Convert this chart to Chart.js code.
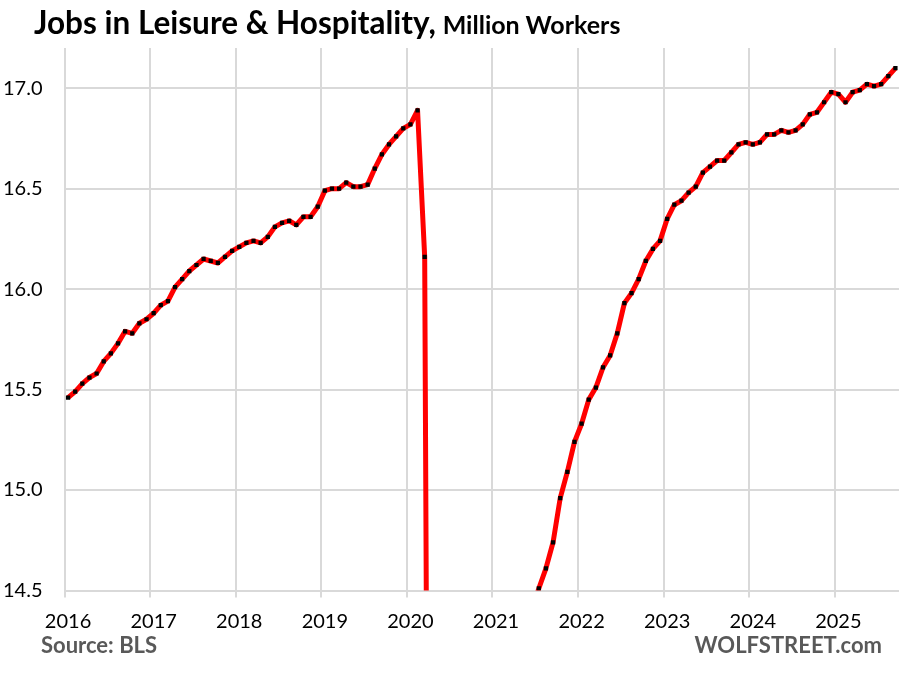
<!DOCTYPE html>
<html>
<head>
<meta charset="utf-8">
<script src="https://cdn.jsdelivr.net/npm/chart.js@4.4.1/dist/chart.umd.min.js"></script>
<style>
  html, body { margin: 0; padding: 0; background: #fff; }
  #wrap { position: relative; width: 915px; height: 673px; }
  #title { position: absolute; left: 34px; top: 7px; font-family: Lato, 'Open Sans', sans-serif; font-weight: 700; color: #000; white-space: nowrap; line-height: 1; }
  #title .big { font-size: 31.5px; }
  #title .small { font-size: 25px; margin-left: 3px; }
  .foot { position: absolute; top: 634px; font-family: Lato, 'Open Sans', sans-serif; font-weight: 700; font-size: 22px; color: #595959; line-height: 1; white-space: nowrap; }
  #src { left: 41px; }
  #brand { right: 33px; }
</style>
</head>
<body>
<div id="wrap">
  <canvas id="chart" width="915" height="673"></canvas>
  <div id="title"><span class="big">Jobs in Leisure &amp; Hospitality,</span> <span class="small">Million Workers</span></div>
  <div class="foot" id="src">Source: BLS</div>
  <div class="foot" id="brand">WOLFSTREET.com</div>
</div>
<script>
// monthly values, million workers (Apr 2020 - Jun 2021 fall below the axis)
var years = ['2016', '2017', '2018', '2019', '2020', '2021', '2022', '2023', '2024', '2025'];
var v2016 = [15.46, 15.49, 15.53, 15.56, 15.58, 15.64, 15.68, 15.73, 15.79, 15.78, 15.83, 15.85];
var v2017 = [15.88, 15.92, 15.94, 16.01, 16.05, 16.09, 16.12, 16.15, 16.14, 16.13, 16.16, 16.19];
var v2018 = [16.21, 16.23, 16.24, 16.23, 16.26, 16.31, 16.33, 16.34, 16.32, 16.36, 16.36, 16.41];
var v2019 = [16.49, 16.50, 16.50, 16.53, 16.51, 16.51, 16.52, 16.60, 16.67, 16.72, 16.76, 16.80];
var v2020 = [16.82, 16.89, 16.16, 8.70, 10.10, 11.70, 12.30, 12.60, 12.95, 13.25, 13.25, 12.85];
var v2021 = [12.95, 13.35, 13.65, 13.95, 14.25, 14.40, 14.51, 14.61, 14.74, 14.96, 15.09, 15.24];
var v2022 = [15.33, 15.45, 15.51, 15.61, 15.67, 15.78, 15.93, 15.98, 16.05, 16.14, 16.20, 16.24];
var v2023 = [16.35, 16.42, 16.44, 16.48, 16.51, 16.58, 16.61, 16.64, 16.64, 16.68, 16.72, 16.73];
var v2024 = [16.72, 16.73, 16.77, 16.77, 16.79, 16.78, 16.79, 16.82, 16.87, 16.88, 16.93, 16.98];
var v2025 = [16.97, 16.93, 16.98, 16.99, 17.02, 17.01, 17.02, 17.06, 17.10];
var yTicks = [14.5, 15.0, 15.5, 16.0, 16.5, 17.0];

var perYear = [v2016, v2017, v2018, v2019, v2020, v2021, v2022, v2023, v2024, v2025];
var labels = [];
var values = [];
var yearLabelAt = {};
perYear.forEach(function(arr, yi) {
  arr.forEach(function(v, m) {
    if (m === 0) yearLabelAt[labels.length] = years[yi];
    labels.push(years[yi] + '-' + (m + 1));
    values.push(v);
  });
});

var GRID = '#d9d9d9';
function yearLine(ctx) {
  return (ctx.index !== undefined && yearLabelAt[ctx.index]) ? GRID : 'rgba(0,0,0,0)';
}

new Chart(document.getElementById('chart'), {
  type: 'line',
  data: {
    labels: labels,
    datasets: [{
      data: values,
      borderColor: '#ff0000',
      borderWidth: 5,
      borderJoinStyle: 'round',
      tension: 0,
      pointStyle: 'rect',
      pointRadius: 3,
      pointBorderWidth: 0,
      pointBackgroundColor: '#000',
    }],
  },
  options: {
    responsive: false,
    animation: false,
    layout: { padding: { left: 0, top: 48, right: 16, bottom: 0 } },
    plugins: { legend: { display: false }, tooltip: { enabled: false } },
    scales: {
      x: {
        type: 'category',
        offset: true,
        border: { display: false },
        grid: { offset: true, color: yearLine, tickColor: yearLine, lineWidth: 2, tickLength: 7 },
        ticks: {
          autoSkip: false,
          maxRotation: 0,
          minRotation: 0,
          padding: 12,
          color: '#000',
          font: { family: 'Lato', size: 20 },
          callback: function(val, idx) { return yearLabelAt[idx] || ''; },
        },
        afterFit: function(scale) { scale.height = 82.5; },
      },
      y: {
        min: yTicks[0],
        max: 17.2,
        border: { display: false },
        grid: { color: GRID, lineWidth: 2, drawTicks: false },
        afterBuildTicks: function(scale) {
          scale.ticks = yTicks.map(function(v) { return { value: v }; });
        },
        ticks: {
          padding: 22,
          color: '#000',
          font: { family: 'Lato', size: 20 },
          callback: function(v) { return Number(v).toFixed(1); },
        },
        afterFit: function(scale) { scale.width = 64.5; },
      },
    },
  },
});
</script>
</body>
</html>
